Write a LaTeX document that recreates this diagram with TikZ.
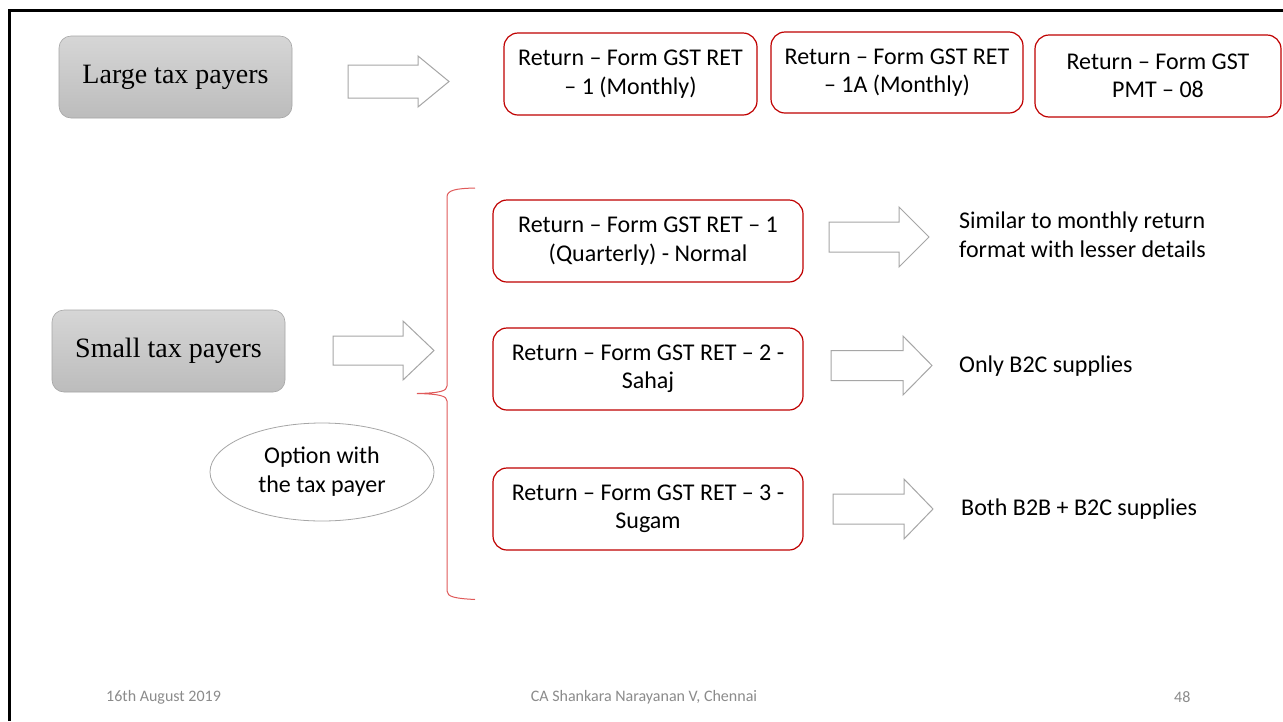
\documentclass[tikz,border=0pt]{standalone}
\usepackage{fontspec}
\setmainfont{Carlito}
\newfontfamily\serifface{Liberation Serif}
\usetikzlibrary{shapes.geometric}
\definecolor{boxred}{HTML}{C00000}
\definecolor{bracered}{HTML}{E05A5A}
\definecolor{arrgray}{HTML}{A6A6A6}
\definecolor{foot}{HTML}{8B8B8B}
\definecolor{gtop}{HTML}{D6D6D6}
\definecolor{gbot}{HTML}{BCBCBC}
\newcommand{\myarrow}[6]{% x1, xhead, xtip, yc, shaft half, head half
  \draw[blockarr] (#1,#4-#5) -- (#2,#4-#5) -- (#2,#4-#6) -- (#3,#4) -- (#2,#4+#6) -- (#2,#4+#5) -- (#1,#4+#5) -- cycle;}
\tikzset{
  retbox/.style={draw=boxred, line width=1.2pt, rounded corners=14pt, align=center,
    inner sep=0pt, font=\fontsize{24}{28.5}\selectfont},
  graybox/.style={draw=arrgray, line width=0.6pt, rounded corners=12pt, top color=gtop,
    bottom color=gbot, align=center, inner sep=0pt, minimum width=233pt, minimum height=82pt,
    font=\serifface\fontsize{28}{32}\selectfont},
  blockarr/.style={draw=arrgray, line width=1pt, fill=white, line join=miter},
  plain/.style={align=left, inner sep=0pt, font=\fontsize{24}{29}\selectfont},
  foottext/.style={text=foot, inner sep=0pt, font=\fontsize{16}{18}\selectfont},
}
\begin{document}
\begin{tikzpicture}[x=1pt,y=-1pt]
\useasboundingbox (0,0) rectangle (1283,721);
\fill[white] (0,0) rectangle (1283,721);
% slide frame (left and top edges visible)
\draw[line width=2.6pt] (9.5,721) -- (9.5,10.5) -- (1283,10.5);

% left category boxes
\node[graybox] (large) at (175.5,77) {Large tax payers};
\node[graybox] (small) at (168.5,351) {Small tax payers};

% top row boxes
\node[retbox, minimum width=253pt, minimum height=82pt] (r1) at (630.5,74) {Return -- Form GST RET\\-- 1 (Monthly)};
\node[retbox, minimum width=252pt, minimum height=81pt] (r2) at (897,72.5) {Return -- Form GST RET\\-- 1A (Monthly)};
\node[retbox, minimum width=246pt, minimum height=82pt] (r3) at (1158,76) {Return -- Form GST\\PMT -- 08};

% middle column boxes
\node[retbox, minimum width=310pt, minimum height=82pt] (q) at (648,241) {Return -- Form GST RET -- 1\\(Quarterly) - Normal};
\node[retbox, minimum width=310pt, minimum height=82pt] (sahaj) at (648,369) {Return -- Form GST RET -- 2 -\\Sahaj};
\node[retbox, minimum width=310pt, minimum height=82pt] (sugam) at (648,509) {Return -- Form GST RET -- 3 -\\Sugam};

% right descriptions
\node[plain, anchor=west] (d1) at (959,235) {Similar to monthly return\\format with lesser details};
\node[plain, anchor=west] (d2) at (959,366) {Only B2C supplies};
\node[plain, anchor=west] (d3) at (961,509) {Both B2B + B2C supplies};

% option ellipse
\node[draw=arrgray, line width=0.8pt, ellipse, minimum width=224pt, minimum height=98pt,
  inner sep=0pt, align=center, font=\fontsize{24}{29}\selectfont] (opt) at (322,472) {Option with\\the tax payer};

% block arrows
\myarrow{348}{418}{449}{81.5}{16.5}{25.5}
\myarrow{333}{403}{434}{350.5}{14.5}{29.5}
\myarrow{829}{899}{929}{237}{15}{30}
\myarrow{831}{903}{932}{365.5}{15}{29.5}
\myarrow{833}{904}{933}{509}{15}{30}

% brace
\draw[bracered, line width=1pt]
  (475,188) .. controls (456,188.5) and (447,190) .. (447,197)
  -- (447,386) .. controls (447,391) and (440,393) .. (417,393.5)
  .. controls (440,394) and (447,396) .. (447,401)
  -- (447,591) .. controls (447,597) and (456,598.5) .. (475,599.5);

% footer
\node[foottext, anchor=west] (date) at (106,697) {16th August 2019};
\node[foottext] (author) at (644,697) {CA Shankara Narayanan V, Chennai};
\node[foottext, anchor=west] (page) at (1174,697) {48};
\end{tikzpicture}
\end{document}
